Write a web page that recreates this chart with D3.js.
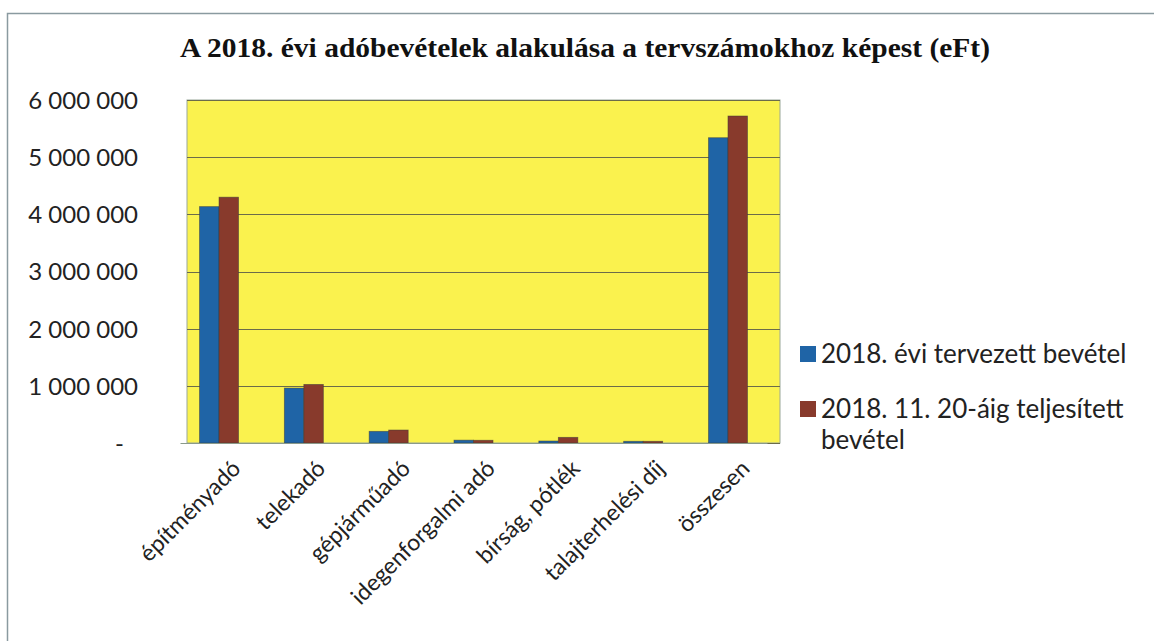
<!DOCTYPE html>
<html>
<head>
<meta charset="utf-8">
<script src="https://cdn.jsdelivr.net/npm/d3@7"></script>
<style>
  body { margin: 0; background: #fff; }
  svg text { font-family: Lato, "Open Sans", sans-serif; fill: #222; }
</style>
</head>
<body>
<div class="vis-bar"></div>
<script>
// data (eFt)
const categories = ["építményadó", "telekadó", "gépjárműadó", "idegenforgalmi adó", "bírság, pótlék", "talajterhelési díj", "összesen"];
const planned = [4135000, 961000, 204000, 50000, 35000, 30000, 5340000];
const actual = [4300000, 1025000, 227000, 48000, 99000, 30000, 5720000];
const seriesNames = ["2018. évi tervezett bevétel", "2018. 11. 20-áig teljesített bevétel"];
const yTicks = [0, 1000000, 2000000, 3000000, 4000000, 5000000, 6000000];
const yTickLabels = ["-", "1 000 000", "2 000 000", "3 000 000", "4 000 000", "5 000 000", "6 000 000"];

const W = 1154, H = 641;
const margin = { top: 100, left: 187, right: 374, bottom: 198 };
const width = W - margin.left - margin.right;
const height = H - margin.top - margin.bottom;
const colors = ["#1f64a6", "#883a2c"];

const svg = d3.select(".vis-bar").append("svg")
    .attr("width", W)
    .attr("height", H);

// outer chart frame (only top/left visible in the scan)
svg.append("path")
    .attr("d", "M7.5," + (H + 5) + "V13.5H" + (W + 5))
    .attr("fill", "none")
    .attr("stroke", "#8a9aa0")
    .attr("stroke-width", 1.5);

svg.append("text")
    .attr("x", 585)
    .attr("y", 57)
    .attr("text-anchor", "middle")
    .attr("textLength", 810)
    .attr("lengthAdjust", "spacingAndGlyphs")
    .style("font-family", "'Liberation Serif', 'DejaVu Serif', serif")
    .style("font-weight", "bold")
    .style("font-size", "27px")
    .style("fill", "#111")
    .text("A 2018. évi adóbevételek alakulása a tervszámokhoz képest (eFt)");

const g = svg.append("g")
    .attr("transform", "translate(" + margin.left + "," + margin.top + ")");

// X channel
const x = d3.scaleBand().domain(categories).range([-7, width - 13]).paddingInner(0.54).paddingOuter(0.23);
const xs = d3.scaleBand().domain([0, 1]).range([0, x.bandwidth()]);

// Y channel
const y = d3.scaleLinear().domain([0, 6000000]).range([height, 0]);

g.append("rect")
    .attr("width", width)
    .attr("height", height)
    .attr("fill", "#faf24e")
    .attr("stroke", "#9aa79a")
    .attr("stroke-width", 1);

// gridlines
g.selectAll(".grid")
    .data(yTicks)
    .enter()
    .append("line")
    .attr("x1", 0)
    .attr("x2", width)
    .attr("y1", d => Math.round(y(d)) + 0.5)
    .attr("y2", d => Math.round(y(d)) + 0.5)
    .attr("stroke", "#6b6b4a")
    .attr("stroke-width", 1.2);

// Bars
const rows = categories.map((c, i) => ({ cat: c, vals: [planned[i], actual[i]] }));
const grp = g.selectAll(".grp")
    .data(rows)
    .enter()
    .append("g")
    .attr("transform", d => "translate(" + x(d.cat) + ",0)");

grp.selectAll("rect")
    .data(d => d.vals.map((v, k) => ({ k: k, v: v })))
    .enter()
    .append("rect")
    .attr("x", d => xs(d.k))
    .attr("width", xs.bandwidth())
    .attr("y", d => y(d.v))
    .attr("height", d => height - y(d.v))
    .attr("fill", d => colors[d.k])
    .attr("stroke", "#3a3a3a")
    .attr("stroke-opacity", 0.6)
    .attr("stroke-width", 0.8);

// Axis
const yAxis = g.append("g")
    .call(d3.axisLeft(y).tickValues(yTicks).tickSize(0).tickPadding(49)
        .tickFormat((d, i) => yTickLabels[i]));
yAxis.select(".domain").remove();
yAxis.selectAll("text")
    .style("font-family", "Lato, sans-serif")
    .style("font-size", "24px")
    .attr("dy", "0.35em")
    .attr("dx", d => d === 0 ? -14 : 0)
    .attr("fill", "#222");

const xAxis = g.append("g")
    .attr("transform", "translate(0," + height + ")")
    .call(d3.axisBottom(x).tickSize(0).tickFormat(d => d));
xAxis.select(".domain").attr("stroke", "#8a9a8a");
xAxis.selectAll("text")
    .attr("y", 0)
    .attr("dy", 0)
    .attr("transform", "translate(23,27)rotate(-45)")
    .style("text-anchor", "end")
    .style("font-size", "23px")
    .attr("fill", "#222");

// Legend
const legend = svg.append("g").attr("transform", "translate(800,346)");
const legendY = [0, 55];
seriesNames.forEach((name, i) => {
    const item = legend.append("g").attr("transform", "translate(0," + legendY[i] + ")");
    item.append("rect")
        .attr("width", 16)
        .attr("height", 16)
        .attr("fill", colors[i]);
    const t = item.append("text")
        .attr("x", 21)
        .attr("y", 17)
        .style("font-size", "26px");
    if (i === 1) {
        t.append("tspan").text("2018. 11. 20-áig teljesített");
        t.append("tspan").attr("x", 21).attr("dy", 31).text("bevétel");
    } else {
        t.text(name);
    }
});
</script>
</body>
</html>
